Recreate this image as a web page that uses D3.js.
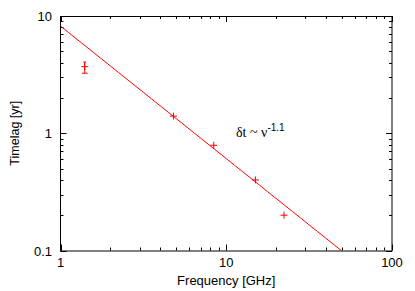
<!DOCTYPE html>
<html><head><meta charset="utf-8">
<script src="https://cdn.jsdelivr.net/npm/d3@7"></script>
<style>body{margin:0;background:#fff}svg{display:block}text{font-family:"Liberation Sans",Arial,sans-serif}</style>
</head><body>
<svg id="c" width="415" height="291"></svg>
<script>
const freq = [1.4, 4.8, 8.4, 15, 22.3];
const lag = [3.7, 1.4, 0.79, 0.4, 0.2];
const errLo = [3.25, null, null, null, null];
const errHi = [4.05, null, null, null, null];
const fitAmp = 8.2, fitIdx = -1.13;
const xTicks = [1, 10, 100];
const yTicks = [0.1, 1, 10];

const svg = d3.select("#c");
const L = 60.5, R = 392, T = 16, B = 250.5;
const x = d3.scaleLog().domain([1, 100]).range([L, R]);
const y = d3.scaleLog().domain([0.1, 10]).range([B, T]);
const red = "#ff0000";

svg.append("defs").append("clipPath").attr("id", "clip")
  .append("rect").attr("x", L).attr("y", T).attr("width", R - L).attr("height", B - T);

// minor ticks
const xMinor = [], yMinor = [];
for (let d = 1; d < 100; d *= 10) for (let k = 2; k <= 9; k++) xMinor.push(d * k);
for (let d = 0.1; d < 10; d *= 10) for (let k = 2; k <= 9; k++) yMinor.push(d * k);
const g = svg.append("g").attr("stroke", "#000").attr("stroke-width", 1);
xMinor.forEach(v => {
  const px = Math.round(x(v)) + 0.5;
  g.append("line").attr("x1", px).attr("x2", px).attr("y1", B).attr("y2", B - 3);
  g.append("line").attr("x1", px).attr("x2", px).attr("y1", T).attr("y2", T + 3);
});
xTicks.forEach(v => {
  const px = Math.round(x(v)) + 0.5;
  g.append("line").attr("x1", px).attr("x2", px).attr("y1", B).attr("y2", B - 6);
  g.append("line").attr("x1", px).attr("x2", px).attr("y1", T).attr("y2", T + 6);
});
yMinor.forEach(v => {
  const py = Math.round(y(v)) + 0.5;
  g.append("line").attr("x1", L).attr("x2", L + 3).attr("y1", py).attr("y2", py);
  g.append("line").attr("x1", R).attr("x2", R - 3).attr("y1", py).attr("y2", py);
});
yTicks.forEach(v => {
  const py = Math.round(y(v)) + 0.5;
  g.append("line").attr("x1", L).attr("x2", L + 6).attr("y1", py).attr("y2", py);
  g.append("line").attr("x1", R).attr("x2", R - 6).attr("y1", py).attr("y2", py);
});

// fit line
const lineData = d3.range(0, 2.001, 0.05).map(e => Math.pow(10, e));
svg.append("path").attr("clip-path", "url(#clip)")
  .datum(lineData)
  .attr("d", d3.line().x(d => x(d)).y(d => y(fitAmp * Math.pow(d, fitIdx))))
  .attr("fill", "none").attr("stroke", red).attr("stroke-width", 1);

// points
const pg = svg.append("g").attr("stroke", red).attr("stroke-width", 1);
freq.forEach((f, i) => {
  const px = x(f), py = y(lag[i]);
  pg.append("line").attr("x1", px - 3.5).attr("x2", px + 3.5).attr("y1", py).attr("y2", py);
  pg.append("line").attr("x1", px).attr("x2", px).attr("y1", py - 3.5).attr("y2", py + 3.5);
  if (errLo[i] != null) {
    pg.append("line").attr("x1", px).attr("x2", px).attr("y1", y(errHi[i])).attr("y2", y(errLo[i]));
    pg.append("line").attr("x1", px - 3).attr("x2", px + 3).attr("y1", y(errLo[i])).attr("y2", y(errLo[i]));
    pg.append("line").attr("x1", px - 1.5).attr("x2", px + 1.5).attr("y1", y(errHi[i])).attr("y2", y(errHi[i]));
  }
});

// frame
svg.append("rect").attr("x", L).attr("y", T + 0.5).attr("width", R - L).attr("height", B - T)
  .attr("fill", "none").attr("stroke", "#000").attr("stroke-width", 1);

// labels
const fmt = v => v >= 1 ? String(v) : "0.1";
xTicks.forEach(v => svg.append("text").attr("x", x(v)).attr("y", 267)
  .attr("text-anchor", "middle").attr("font-size", 13).text(String(v)));
yTicks.forEach(v => svg.append("text").attr("x", 52).attr("y", y(v) + 5)
  .attr("text-anchor", "end").attr("font-size", 13).text(fmt(v)));

svg.append("text").attr("x", (L + R) / 2).attr("y", 284.5).attr("text-anchor", "middle")
  .attr("font-size", 13).text("Frequency [GHz]");
svg.append("text").attr("transform", `translate(19,${(T + B) / 2}) rotate(-90)`)
  .attr("text-anchor", "middle").attr("font-size", 12.5).text("Timelag [yr]");

const ann = svg.append("text").attr("x", 236).attr("y", 137);
ann.append("tspan").attr("font-family", "'Liberation Serif',serif").attr("font-size", 14).text("δt ~ ν");
ann.append("tspan").attr("dy", -6).attr("font-size", 10).text("-1.1");
</script>
</body></html>
